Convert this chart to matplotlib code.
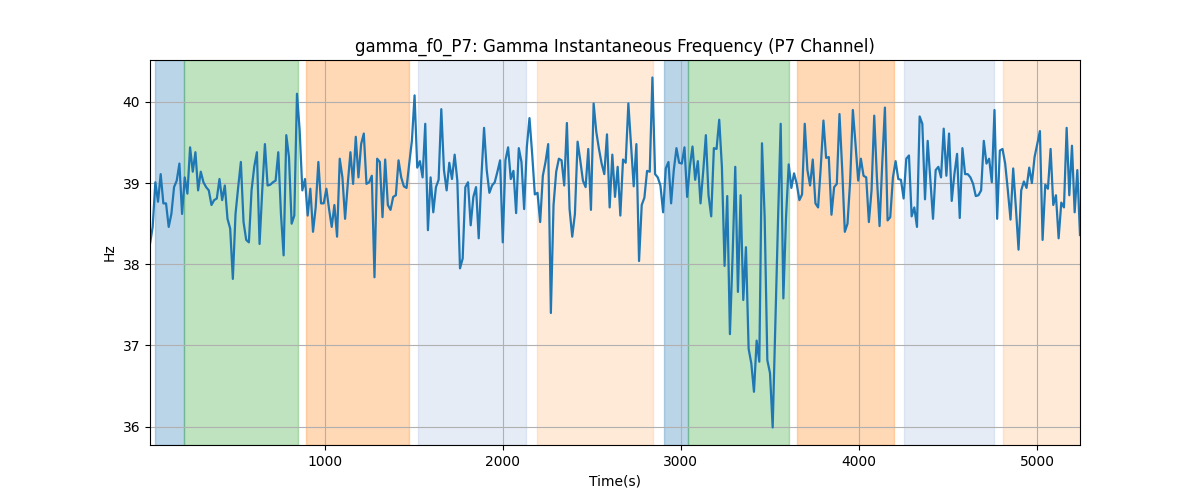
import numpy as np
import matplotlib
matplotlib.use("Agg")
import matplotlib.pyplot as plt

# sampling: first time (s) and step (s)
t_start = 20.0
t_step = 15.0

freq_hz = [
    # segment 1
    38.25, 38.46, 39.01, 38.77, 39.11, 38.75, 38.75, 38.46, 38.62, 38.95, 39.03,
    39.24, 38.62, 39.07, 38.87, 39.44, 39.14, 39.38, 38.91, 39.14, 39.01, 38.95,
    38.91, 38.73, 38.79, 38.81, 39.05, 38.79, 38.97, 38.56, 38.44, 37.82, 38.62,
    38.95, 39.26, 38.52, 38.30, 38.27, 38.91, 39.20, 39.38, 38.25, 38.91, 39.48,
    # segment 2
    38.97, 38.98, 39.01, 39.03, 39.38, 38.62, 38.11, 39.59, 39.32, 38.50, 38.60,
    40.10, 39.65, 38.91, 39.05, 38.60, 38.93, 38.40, 38.70, 39.26, 38.75, 38.75,
    38.93, 38.68, 38.46, 38.73, 38.34, 39.30, 39.07, 38.56, 38.99, 39.38, 38.99,
    39.57, 39.07, 39.48, 39.61, 38.99, 39.01, 39.09, 37.84, 39.30, 39.26, 38.58,
    # segment 3
    39.29, 38.73, 38.67, 38.83, 38.85, 39.28, 39.07, 38.96, 38.94, 39.24, 39.52,
    40.08, 39.19, 39.27, 39.07, 39.73, 38.42, 39.07, 38.64, 38.95, 39.04, 39.91,
    39.16, 38.91, 39.25, 39.05, 39.35, 39.03, 37.95, 38.07, 38.95, 39.01, 38.48,
    38.83, 38.95, 38.32, 39.07, 39.68, 39.16, 38.88, 38.97, 39.01, 39.14, 39.28,
    # segment 4
    38.27, 39.28, 39.44, 39.05, 39.15, 38.63, 39.43, 39.26, 38.68, 39.44, 39.80,
    39.36, 38.86, 38.88, 38.52, 39.09, 39.26, 39.48, 37.40, 38.73, 39.14, 39.30,
    39.28, 38.97, 39.74, 38.68, 38.34, 38.62, 39.51, 39.28, 39.03, 38.95, 39.42,
    38.67, 39.98, 39.63, 39.42, 39.24, 39.11, 39.60, 38.70, 39.35, 38.83, 39.20,
    # segment 5
    38.60, 39.29, 39.25, 39.98, 39.48, 38.96, 39.48, 38.04, 38.73, 38.82, 39.15,
    39.14, 40.30, 39.11, 39.07, 38.97, 38.64, 39.18, 39.26, 38.75, 39.16, 39.43,
    39.25, 39.24, 39.44, 38.83, 39.20, 39.45, 39.04, 39.27, 38.75, 39.14, 39.59,
    38.85, 38.59, 39.43, 39.42, 39.78, 39.20, 37.98, 38.84, 37.14, 38.10,
    # segment 6
    39.20, 37.66, 38.85, 37.56, 38.21, 36.96, 36.78, 36.43, 37.06, 36.80, 39.49,
    38.58, 36.82, 36.66, 35.99, 37.27, 38.54, 39.73, 37.58, 38.58, 39.23, 38.94,
    39.12, 38.99, 38.79, 38.86, 39.73, 39.16, 38.97, 39.29, 38.75, 38.70, 39.20,
    39.77, 39.31, 39.32, 38.61, 38.95, 38.99, 39.85, 39.18, 38.40, 38.50, 39.03,
    # segment 7
    39.90, 39.48, 39.03, 39.30, 39.09, 39.07, 38.52, 38.91, 39.83, 39.07, 38.47,
    39.24, 39.93, 38.54, 38.58, 39.07, 39.27, 39.05, 39.04, 38.81, 39.30, 39.34,
    38.59, 38.70, 38.46, 39.82, 39.73, 38.80, 39.52, 39.03, 38.56, 39.16, 39.20,
    39.07, 39.67, 39.09, 39.61, 38.78, 39.11, 39.36, 38.57, 39.43, 39.11, 39.11,
    # segment 8
    39.07, 38.99, 38.84, 38.85, 38.91, 39.52, 39.24, 39.30, 39.01, 39.90, 38.56,
    39.40, 39.42, 39.24, 38.91, 38.55, 39.18, 38.70, 38.18, 38.91, 39.02, 38.94,
    39.19, 39.00, 39.32, 39.48, 39.64, 38.30, 38.98, 38.93, 39.42, 38.73, 38.85,
    38.32, 38.76, 38.70, 39.68, 38.85, 39.46, 38.64, 39.16, 38.36,
]

# shaded intervals (start s, end s) and their colours / alphas
span_starts = [47, 213, 897, 1527, 2191, 2905, 3042, 3653, 4250, 4807]
span_ends = [210, 850, 1475, 2133, 2842, 3039, 3605, 4197, 4760, 5300]
span_colors = ["#1f77b4", "#2ca02c", "#ff7f0e", "#5280c3", "#ff7f0e",
               "#1f77b4", "#2ca02c", "#ff7f0e", "#5280c3", "#ff7f0e"]
span_alphas = [0.3, 0.3, 0.3, 0.15, 0.16, 0.3, 0.3, 0.3, 0.15, 0.16]

title = "gamma_f0_P7: Gamma Instantaneous Frequency (P7 Channel)"

times = t_start + t_step * np.arange(len(freq_hz))

fig, ax = plt.subplots(figsize=(12, 5), dpi=100)
for s, e, c, a in zip(span_starts, span_ends, span_colors, span_alphas):
    ax.axvspan(s, e, color=c, alpha=a)
ax.plot(times, freq_hz, color="#1f77b4", linewidth=1.6)
ax.set_xlim(times[0], times[-1])
ax.grid(True)
ax.set_title(title)
ax.set_xlabel("Time(s)")
ax.set_ylabel("Hz")
fig.savefig("out.png", dpi=100)
